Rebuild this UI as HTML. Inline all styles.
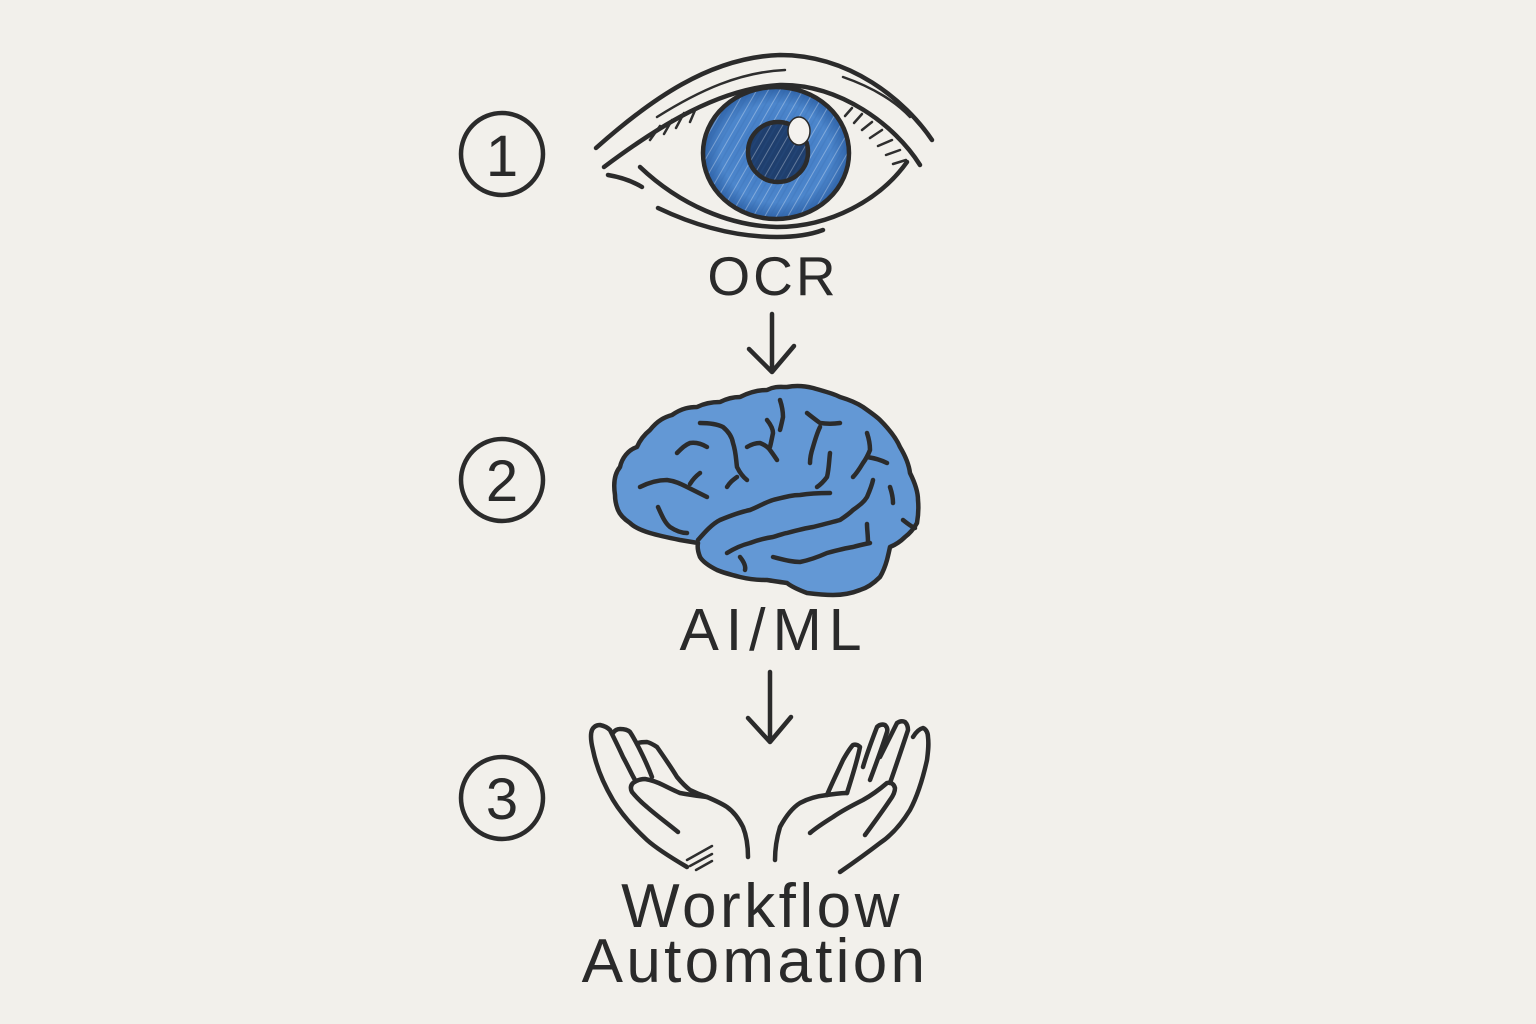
<!DOCTYPE html>
<html>
<head>
<meta charset="utf-8">
<style>
  html,body{margin:0;padding:0;background:#f2f0eb;}
  body{width:1536px;height:1024px;overflow:hidden;}
  svg{display:block;}
  .ink{fill:none;stroke:#2b2b2b;stroke-width:4.5;stroke-linecap:round;stroke-linejoin:round;}
  .thin{fill:none;stroke:#2e2e2e;stroke-width:2.5;stroke-linecap:round;}
  .txt{font-family:"Liberation Sans","DejaVu Sans",sans-serif;fill:#2a2a2a;}
</style>
</head>
<body>
<svg width="1536" height="1024" viewBox="0 0 1536 1024" xmlns="http://www.w3.org/2000/svg">
  <defs>
    <pattern id="hatch" width="10" height="10" patternUnits="userSpaceOnUse" patternTransform="rotate(30)">
      <line x1="0" y1="0" x2="0" y2="10" stroke="#ffffff" stroke-opacity="0.3" stroke-width="2"/>
      <line x1="5" y1="0" x2="5" y2="10" stroke="#2f5f9f" stroke-opacity="0.16" stroke-width="1.5"/>
    </pattern>
    <radialGradient id="irisG" cx="0.5" cy="0.5" r="0.5">
      <stop offset="0" stop-color="#3f78c2"/>
      <stop offset="0.75" stop-color="#4c86cc"/>
      <stop offset="1" stop-color="#2f63a8"/>
    </radialGradient>
  </defs>
  <rect width="1536" height="1024" fill="#f2f0eb"/>

  <!-- Step circles -->
  <circle cx="502" cy="154" r="41" class="ink" stroke-width="4"/>
  <text x="502" y="176" class="txt" font-size="58" text-anchor="middle">1</text>
  <circle cx="502" cy="480" r="41" class="ink" stroke-width="4"/>
  <text x="502" y="501" class="txt" font-size="58" text-anchor="middle">2</text>
  <circle cx="502" cy="798" r="41" class="ink" stroke-width="4"/>
  <text x="502" y="819" class="txt" font-size="58" text-anchor="middle">3</text>

  <!-- EYE -->
  <!-- outer brow line -->
  <path class="ink" d="M596,148 C650,100 710,57 780,55 C850,55 905,100 932,140"/>
  <!-- thin inner brow line -->
  <path class="thin" stroke-width="2" d="M657,117 C700,90 740,72 785,70"/>
  <path class="thin" stroke-width="2" d="M843,77 C875,88 897,103 910,117"/>
  <!-- iris -->
  <ellipse cx="776" cy="153" rx="73" ry="66" fill="url(#irisG)"/>
  <ellipse cx="776" cy="153" rx="73" ry="66" fill="url(#hatch)"/>
  <ellipse cx="776" cy="153" rx="73" ry="66" class="ink" stroke-width="4"/>
  <!-- pupil -->
  <circle cx="778" cy="152" r="30" fill="#1f3f6e"/>
  <circle cx="778" cy="152" r="30" fill="url(#hatch)"/>
  <circle cx="778" cy="152" r="30" class="ink" stroke-width="3" stroke="#1f2a38"/>
  <ellipse cx="799" cy="131" rx="11" ry="14" fill="#f4f2ee" stroke="#2b2b2b" stroke-width="1.5"/>
  <!-- upper lid line -->
  <path class="ink" d="M604,167 C660,125 720,88 780,85 C840,84 895,125 920,165"/>
  <!-- lower lid line -->
  <path class="ink" stroke-width="3.5" d="M640,167 C680,205 730,226 777,227 C830,227 880,200 907,162"/>
  <!-- lower outer line -->
  <path class="ink" stroke-width="3" d="M658,208 C700,228 740,237 777,237 C800,237 815,233 823,230"/>
  <path class="ink" stroke-width="3" d="M608,175 C620,177 632,181 642,187"/>
  <!-- eyelashes -->
  <g class="thin">
    <line x1="852" y1="108" x2="845" y2="116"/>
    <line x1="862" y1="114" x2="854" y2="123"/>
    <line x1="872" y1="122" x2="862" y2="130"/>
    <line x1="882" y1="130" x2="870" y2="138"/>
    <line x1="892" y1="140" x2="878" y2="146"/>
    <line x1="900" y1="150" x2="886" y2="155"/>
    <line x1="906" y1="160" x2="893" y2="164"/>
    <line x1="660" y1="126" x2="650" y2="140"/>
    <line x1="672" y1="120" x2="664" y2="134"/>
    <line x1="684" y1="113" x2="676" y2="128"/>
    <line x1="696" y1="108" x2="690" y2="122"/>
  </g>

  <!-- OCR label -->
  <text x="773" y="295" class="txt" font-size="55" text-anchor="middle" letter-spacing="3">OCR</text>

  <!-- Arrow 1 -->
  <path class="ink" d="M772,314 L772,372 M749,349 L772,372 L794,346"/>

  <!-- BRAIN -->
  <path id="brainOutline" d="M615,495 C613,482 615,473 620,467 C622,458 628,450 637,447 C640,440 645,434 650,430 C658,420 665,417 672,415 C682,408 690,407 697,407 C705,403 712,402 720,402 C728,398 734,397 740,397 C750,392 758,390 767,390 C775,386 780,387 787,387 C797,385 805,386 813,388 C823,391 832,393 840,397 C850,400 857,403 863,407 C870,412 876,416 880,420 C890,430 897,440 900,447 C906,457 909,465 910,473 C915,483 918,492 918,500 C919,510 918,517 917,523 C913,530 909,534 905,537 C900,542 895,545 890,547 C889,552 888,556 887,560 C885,567 883,572 880,577 C873,584 867,588 860,590 C850,594 842,595 833,595 C823,595 815,594 807,593 C799,590 792,587 787,583 C780,582 773,581 767,580 C757,580 748,579 740,577 C732,575 724,573 717,570 C709,566 703,562 700,557 C698,552 697,548 698,543 C692,542 686,541 680,540 C670,538 660,536 650,533 C640,530 634,527 630,523 C624,519 620,515 618,510 C616,505 615,500 615,495 Z" fill="#6398d5"/>
  <use href="#brainOutline" fill="url(#hatch)"/>
  <path d="M625,505 C640,520 660,528 690,535 L700,545 C705,560 720,572 760,580 L787,583 C800,592 830,597 860,590 C875,584 885,570 888,555 C860,560 820,565 790,570 C760,565 720,545 700,530 C680,525 650,515 625,505 Z" fill="#3f74b8" fill-opacity="0.3"/>
  <use href="#brainOutline" class="ink" stroke-width="4.5"/>
  <g class="ink" stroke-width="3.8">
    <path d="M698,540 C705,532 712,524 720,520 C732,515 740,512 750,510 C760,506 766,502 773,500 C785,497 792,495 800,495 C812,493 822,493 830,493"/>
    <path d="M727,553 C735,548 742,545 750,543 C758,540 766,538 773,537 C780,535 785,533 787,533 C798,530 806,528 813,527 C825,524 833,522 840,520 C846,516 850,513 853,510 C860,505 864,502 867,497 C870,490 872,485 873,480"/>
    <path d="M740,557 C744,562 746,566 745,570"/>
    <path d="M773,557 C785,560 792,562 800,562 C810,560 818,557 827,553 C838,550 846,548 853,547 C860,545 865,544 870,543"/>
    <path d="M868,543 C868,535 867,530 867,524"/>
    <path d="M640,487 C650,482 658,480 667,480 C675,481 681,484 687,487 C695,491 701,494 707,497"/>
    <path d="M690,484 C693,479 696,476 700,473"/>
    <path d="M658,507 C662,516 665,523 670,527 C676,531 681,533 687,533"/>
    <path d="M677,453 C682,448 685,445 690,443 C697,442 702,444 707,447"/>
    <path d="M700,423 C710,423 717,424 723,427 C729,432 732,437 733,443 C736,452 736,460 737,467 C740,473 743,477 747,480"/>
    <path d="M727,487 C730,482 733,480 737,477"/>
    <path d="M747,447 C752,444 756,443 760,443 C765,445 768,447 770,450 C773,454 775,457 777,460"/>
    <path d="M767,420 C771,425 773,429 773,433 C772,438 771,443 770,447"/>
    <path d="M780,400 C782,406 783,411 783,417 C782,422 781,426 780,430"/>
    <path d="M807,413 C812,417 816,420 820,423 C827,424 833,424 840,423"/>
    <path d="M820,427 C817,433 815,440 813,447 C811,453 810,458 810,463"/>
    <path d="M830,453 C829,461 829,469 827,477 C824,481 820,485 817,487"/>
    <path d="M867,433 C869,439 870,445 870,450 C868,455 866,459 863,463 C860,468 857,473 853,477"/>
    <path d="M867,457 C874,458 881,460 887,463"/>
    <path d="M890,487 C892,493 893,498 893,503"/>
    <path d="M903,520 C908,524 912,527 915,528"/>
  </g>

  <!-- AI/ML label -->
  <text x="774" y="650" class="txt" font-size="59" text-anchor="middle" letter-spacing="7">AI/ML</text>

  <!-- Arrow 2 -->
  <path class="ink" d="M770,672 L770,742 M748,718 L770,742 L791,717"/>

  <!-- HANDS -->
  <g class="ink" stroke-width="4.5">
    <path d="M687,867 C670,857 656,848 647,840 C633,827 622,815 613,800 C603,783 596,765 593,750 C591,742 590,735 592,730 C594,726 597,725 600,725 C605,726 608,728 610,730 C615,740 619,748 623,757 C628,766 631,773 635,780"/>
    <path d="M613,733 C615,730 617,729 620,729 C625,729 628,730 630,732 C634,738 637,744 640,750 C645,760 649,769 652,777"/>
    <path d="M638,743 C641,742 644,742 647,742 C651,743 654,745 657,747 C664,757 671,767 677,777 C682,783 686,787 690,790 C696,793 701,795 707,797 C714,800 721,803 727,807 C734,812 739,819 743,827 C747,837 748,847 748,857"/>
    <path d="M678,832 C667,823 656,815 647,807 C641,802 636,797 632,792 C630,788 631,785 633,783 C637,780 641,779 645,779 C651,780 657,782 663,785 C669,788 675,791 680,793 C690,795 699,796 707,797"/>
    <path d="M775,860 C775,848 777,837 780,827 C786,816 792,808 800,803 C809,798 818,796 827,795 C834,794 841,793 847,793"/>
    <path d="M827,795 C832,783 838,771 843,760 C847,753 850,748 853,745 C856,744 858,745 860,747 C857,762 852,777 847,793"/>
    <path d="M863,767 C867,753 872,740 877,727 C879,725 882,724 885,725 C887,727 888,729 887,732 C882,748 876,764 870,780"/>
    <path d="M880,757 C886,745 892,733 897,723 C900,721 903,721 905,722 C907,724 908,727 908,730 C902,748 896,766 890,783"/>
    <path d="M913,737 C916,732 919,729 923,728 C926,729 928,733 928,737 C929,745 928,752 927,760 C923,778 918,795 910,810 C902,823 892,835 880,843 C867,853 853,863 840,872"/>
    <path d="M810,833 C817,827 825,822 833,817 C843,810 853,805 863,800 C872,795 880,789 887,783 C891,782 894,784 895,788 C895,792 893,796 890,800 C882,812 873,824 865,835"/>
  </g>
  <g class="thin" stroke-width="1.8" stroke="#555">
    <line x1="687" y1="860" x2="712" y2="846"/>
    <line x1="690" y1="866" x2="712" y2="854"/>
    <line x1="696" y1="870" x2="712" y2="861"/>
  </g>

  <!-- Workflow Automation label -->
  <text x="762" y="927" class="txt" font-size="62" text-anchor="middle" letter-spacing="3.5">Workflow</text>
  <text x="755" y="982" class="txt" font-size="62" text-anchor="middle" letter-spacing="3.3">Automation</text>
</svg>
</body>
</html>
